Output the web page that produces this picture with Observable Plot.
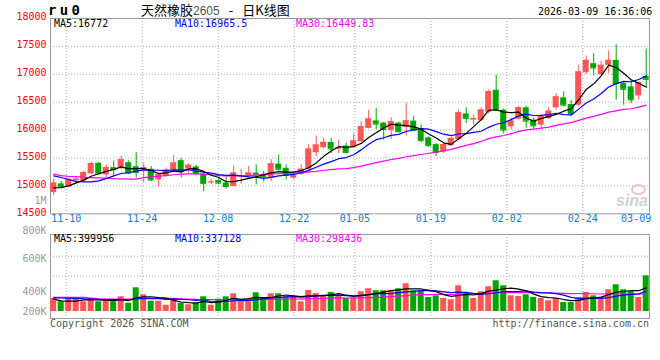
<!DOCTYPE html>
<html><head><meta charset="utf-8">
<script src="https://cdn.jsdelivr.net/npm/d3@7"></script>
<script src="https://cdn.jsdelivr.net/npm/@observablehq/plot@0.6"></script>
<style>
body{margin:0;background:#fff;}
#wrap{position:relative;width:660px;height:360px;overflow:hidden;background:#fff;font-family:"DejaVu Sans Mono",monospace;}
#wrap svg{position:absolute;left:0;top:0;}
.t{position:absolute;white-space:nowrap;font-size:10px;line-height:12px;font-family:"DejaVu Sans Mono",monospace;}
</style></head><body><div id="wrap"></div>
<script>
// ---------- data ----------
const dates = ["11-06","11-07","11-10","11-11","11-12","11-13","11-14","11-17","11-18","11-19","11-20","11-21",
"11-24","11-25","11-26","11-27","11-28","12-01","12-02","12-03","12-04","12-05","12-08","12-09","12-10","12-11","12-12",
"12-15","12-16","12-17","12-18","12-19","12-22","12-23","12-24","12-25","12-26","12-29","12-30","12-31",
"01-05","01-06","01-07","01-08","01-09","01-12","01-13","01-14","01-15","01-16","01-19","01-20","01-21","01-22","01-23",
"01-26","01-27","01-28","01-29","01-30","02-02","02-03","02-04","02-05","02-06","02-09","02-10","02-11","02-12","02-13",
"02-24","02-25","02-26","02-27","03-02","03-03","03-04","03-05","03-06","03-09"];
const open = [14880,15036,14977,15090,15090,15215,15405,15196,15327,15310,15415,15345,15290,15298,15107,15170,15280,15452,15300,15340,
15210,15060,15095,15050,14990,15160,15167,15230,15185,15145,15390,15316,15140,15205,15298,15595,15684,15780,15660,15714,
15690,15792,16030,16165,16125,15995,16125,16050,16160,16030,15860,15740,15610,15720,15830,16290,16180,16170,16320,16714,
16357,16060,16196,16399,16179,16089,16208,16399,16577,16458,16446,17030,17190,16994,17161,17250,16833,16774,16613,16960];
const high = [15120,15080,15125,15150,15260,15430,15420,15375,15446,15530,15450,15595,15410,15345,15230,15320,15540,15495,15400,15370,
15230,15120,15155,15160,15357,15300,15350,15375,15260,15470,15554,15375,15230,15375,15732,15893,15851,15851,15820,15762,
15929,16149,16357,16387,16140,16220,16140,16480,16240,16090,15880,15760,15760,15870,16360,16400,16260,16400,16720,16982,
16380,16220,16420,16430,16220,16280,16400,16655,16685,16535,17160,17327,17370,17232,17420,17530,16863,16890,16860,17450];
const low = [14830,14985,14970,15060,15080,15200,15205,15140,15185,15290,15200,15140,15050,15077,14977,15160,15270,15140,15220,15180,
14898,15020,15020,14945,14980,15030,15150,15018,15070,15080,15240,15110,15110,15190,15280,15523,15660,15580,15575,15571,
15680,15780,16020,16005,15821,15833,15950,15895,15980,15780,15690,15530,15580,15700,15810,16120,16090,16150,16290,16330,
15929,16000,16180,16030,16020,16020,16190,16360,16420,16240,16420,16994,16970,16970,17010,16536,16446,16476,16536,16750];
const close = [15050,14990,15120,15120,15237,15400,15215,15327,15290,15470,15228,15240,15330,15107,15196,15286,15410,15256,15370,15220,
15040,15070,15050,14990,15230,15175,15230,15195,15165,15395,15298,15190,15180,15298,15660,15732,15780,15661,15680,15600,
15805,16060,16200,16107,16012,16149,15970,16165,15990,15810,15720,15600,15740,15850,16310,16210,16205,16360,16690,16357,
16000,16161,16399,16161,16077,16238,16339,16595,16446,16298,17042,17250,17113,17161,17250,16833,16732,16540,16851,16910];
const volume = [220000,164000,232000,208000,164000,220000,164000,208000,164000,248000,140000,400000,282000,174000,174000,106000,208000,140000,113000,140000,
248000,106000,208000,248000,299000,164000,164000,316000,232000,299000,299000,248000,248000,164000,355000,304000,265000,321000,265000,220000,
220000,333000,384000,350000,350000,350000,384000,468000,350000,350000,237000,265000,220000,198000,434000,321000,220000,333000,417000,519000,
434000,265000,254000,282000,237000,220000,181000,220000,152000,152000,237000,321000,265000,237000,367000,451000,367000,333000,237000,603000];
// moving-average values before enough history exists
const ma5Head  = [14965,14970,15000,15055];
const ma10Head = [15180,15150,15115,15078,15073,15072,15090,15130,15180];
const ma30Head = [15210,15185,15170,15165,15155,15150,15145,15140,15130,15125,15122,15120,15150,15160,15175,15185,15200,15210,15214,15215,
15210,15200,15185,15180,15180,15182,15185,15195,15210];
const volMa5Head  = [208000,180000,176000,176000];
const volMa10Head = [230000,228000,225000,220000,215000,210000,205000,200000,200000];
const volMa30Head = [237000,237000,237000,237000,237000,225000,215000,210000,208000,208000,210000,215000,220000,222000,222000,222000,220000,215000,210000,205000,
203000,200000,200000,200000,200000,200000,200000,202000,204000];
const tickDates = ["11-10","11-24","12-08","12-22","01-05","01-19","02-02","02-24","03-09"];
const priceTicks = [18000,17500,17000,16500,16000,15500,15000,14500];
const priceGrid = [17500,17000,16500,16000,15500,15000];
const volLabels = ["800K","600K","400K","200K"];
const volLabelAt = [1356000,895000,338000,0];
const volGridAt = [934000,596000];
const volUnitLabel = [{text:"1M", price:14740}];
const maLegend = ["MA5:16772","MA10:16965.5","MA30:16449.83"];
const volMaLegend = ["MA5:399956","MA10:337128","MA30:298436"];

// ---------- helpers ----------
function movingAverage(values, k, head) {
  return values.map((v, i) => i < k - 1 ? head[i] : d3.mean(values.slice(i - k + 1, i + 1)));
}
const ma5 = movingAverage(close, 5, ma5Head), ma10 = movingAverage(close, 10, ma10Head), ma30 = movingAverage(close, 30, ma30Head);
const vma5 = movingAverage(volume, 5, volMa5Head), vma10 = movingAverage(volume, 10, volMa10Head), vma30 = movingAverage(volume, 30, volMa30Head);
const UP = "#ff5555", DOWN = "#00a500", BLUE_TXT = "#0a7fd8";
const rows = dates.map((date, i) => ({date, i, open: open[i], high: high[i], low: low[i], close: close[i],
  volume: volume[i], up: close[i] >= open[i], ma5: ma5[i], ma10: ma10[i], ma30: ma30[i],
  vma5: vma5[i], vma10: vma10[i], vma30: vma30[i]}));
const col = d => d.up ? UP : DOWN;

const W = 660, H = 360;
const priceY = {type: "linear", domain: [14500, 18000], range: [213.3, 18], axis: null};
const volY = {type: "linear", domain: [0, 1300000], range: [311, 234], axis: null};
const gridX = {type: "linear", domain: [0, dates.length - 1], range: [50.5, 650.7], axis: null};
const candleX = {type: "band", domain: dates, range: [49.45, 649.45], paddingInner: 0.2, paddingOuter: 0.1, axis: null};
const base = {width: W, height: H, marginLeft: 50, marginRight: 11,
  color: {type: "identity"},
  style: {background: "transparent", overflow: "visible", fontFamily: "DejaVu Sans Mono, monospace", fontSize: "10px"}};
const dot = {stroke: "#aaa", strokeDasharray: "1,2"};
const gridIdx = tickDates.slice(0, -1).map(d => dates.indexOf(d));
const lastTick = tickDates.slice(-1);

// price grid / axes layer
const G1 = Plot.plot({...base, marginTop: 18, marginBottom: H - 213.3, x: gridX, y: priceY, marks: [
  Plot.ruleY(priceGrid, dot),
  Plot.ruleX(gridIdx, dot),
  Plot.frame({stroke: "#999"}),
  Plot.text(priceTicks, {y: d => d, text: d => String(d), frameAnchor: "left", textAnchor: "end", dx: -4, dy: -1.5, fill: "#f00"}),
  Plot.text(volUnitLabel, {y: "price", text: "text", frameAnchor: "left", textAnchor: "end", dx: -4, fill: "#999"}),
  Plot.text(tickDates.slice(0, -1), {x: d => dates.indexOf(d), text: d => d, frameAnchor: "bottom", dy: 8, fill: BLUE_TXT}),
  Plot.text(lastTick, {x: d => dates.indexOf(d), text: d => d, frameAnchor: "bottom", dy: 8, textAnchor: "end", fill: BLUE_TXT})
]});
// price candles layer
const C1 = Plot.plot({...base, marginTop: 18, marginBottom: H - 213.3, x: candleX, y: priceY, marks: [
  Plot.ruleX(rows, {x: "date", y1: "low", y2: "high", stroke: col}),
  Plot.barY(rows, {x: "date", y1: "open", y2: "close", fill: col}),
  Plot.tickY(rows, {x: "date", y: "close", stroke: col}),
  Plot.line(rows, {x: "date", y: "ma30", stroke: "#ff00ff", strokeWidth: 1.2}),
  Plot.line(rows, {x: "date", y: "ma10", stroke: "#0000ff", strokeWidth: 1.2}),
  Plot.line(rows, {x: "date", y: "ma5", stroke: "#000", strokeWidth: 1.2})
]});
// volume grid layer
const G2 = Plot.plot({...base, marginTop: 234, marginBottom: H - 318, x: gridX, y: volY, marks: [
  Plot.ruleY(volGridAt, dot),
  Plot.ruleX(gridIdx, dot),
  Plot.frame({stroke: "#999"}),
  Plot.text(volLabels, {y: (d, i) => volLabelAt[i], text: d => d, frameAnchor: "left", textAnchor: "end", dx: -4, fill: "#999"})
]});
// volume bars layer
const C2 = Plot.plot({...base, marginTop: 234, marginBottom: H - 318, x: candleX, y: volY, marks: [
  Plot.barY(rows, {x: "date", y: "volume", fill: col}),
  Plot.line(rows, {x: "date", y: "vma30", stroke: "#ff00ff", strokeWidth: 1.2}),
  Plot.line(rows, {x: "date", y: "vma10", stroke: "#0000ff", strokeWidth: 1.2}),
  Plot.line(rows, {x: "date", y: "vma5", stroke: "#000", strokeWidth: 1.2})
]});

const wrap = document.getElementById("wrap");
function addText(html, css) {
  const d = document.createElement("div");
  d.className = "t"; d.innerHTML = html; Object.assign(d.style, css); wrap.appendChild(d); return d;
}
// watermark (under candles)
addText('<span style="display:inline-block;width:11px;height:7px;border:2px solid #f3c4c4;border-radius:50%"></span>',
  {left: "631px", top: "184px", lineHeight: "11px"});
addText("sina", {left: "616px", top: "193px", fontFamily: "Liberation Sans, sans-serif", fontStyle: "italic", fontWeight: "bold", fontSize: "16px", color: "#d2d2d2", lineHeight: "16px"});
wrap.appendChild(G1);
wrap.appendChild(G2);
wrap.appendChild(C1);
wrap.appendChild(C2);

// header
addText("ru0", {left: "48px", top: "3px", fontSize: "14px", lineHeight: "14px", fontWeight: "bold", letterSpacing: "3.3px", color: "#000"});
addText('天然橡胶<span style="color:#555;font-family:Liberation Sans,sans-serif;font-size:12px">2605</span><span style="margin:0 9px">-</span>日K线图',
  {left: "141px", top: "2px", fontSize: "13px", lineHeight: "15px", fontFamily: "Noto Sans CJK SC, sans-serif", color: "#000"});
addText("2026-03-09 16:36:06", {left: "538px", top: "6px", color: "#000"});
// MA legends
const legendColors = ["#000", "#0000ff", "#ff00ff"];
const legendX = [54, 175, 296];
maLegend.forEach((s, i) => addText(s, {left: legendX[i] + "px", top: "19px", lineHeight: "10px", color: legendColors[i]}));
volMaLegend.forEach((s, i) => addText(s, {left: legendX[i] + "px", top: "234px", lineHeight: "10px", color: legendColors[i]}));
// footer
addText("Copyright 2026 SINA.COM", {left: "50px", top: "318px", color: "#555"});
addText("http://finance.sina.com.cn", {right: "11px", top: "318px", color: "#555"});
</script></body></html>
